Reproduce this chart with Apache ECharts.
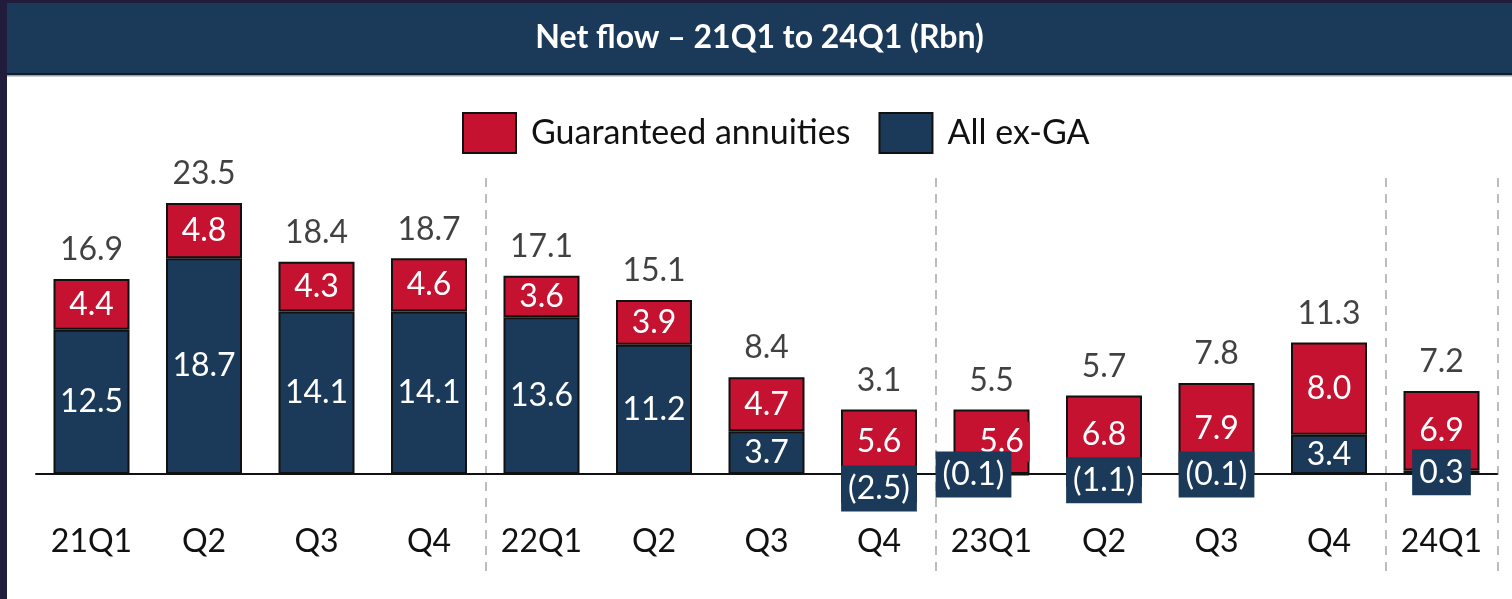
<!DOCTYPE html>
<html>
<head>
<meta charset="utf-8">
<script src="https://cdn.jsdelivr.net/npm/echarts@6/dist/echarts.min.js"></script>
<style>
  html, body { margin: 0; padding: 0; background: #221c3c; }
  #chart { position: absolute; left: 7px; top: 3px; width: 1505px; height: 596px; }
</style>
</head>
<body>
<div id="chart"></div>
<script>
var categories = ["21Q1", "Q2", "Q3", "Q4", "22Q1", "Q2", "Q3", "Q4", "23Q1", "Q2", "Q3", "Q4", "24Q1"];
var guaranteedAnnuities = [4.4, 4.8, 4.3, 4.6, 3.6, 3.9, 4.7, 5.6, 5.6, 6.8, 7.9, 8.0, 6.9];
var allExGA = [12.5, 18.7, 14.1, 14.1, 13.6, 11.2, 3.7, -2.5, -0.1, -1.1, -0.1, 3.4, 0.3];
var totals = [16.9, 23.5, 18.4, 18.7, 17.1, 15.1, 8.4, 3.1, 5.5, 5.7, 7.8, 11.3, 7.2];
var yearStarts = [4, 8, 12];

var RED = "#c41230";
var NAVY = "#1b3a5a";
var FONT = "Lato";

// top of each stack, where the total label sits
var stackTops = guaranteedAnnuities.map(function (g, i) {
  return Math.max(allExGA[i], 0) + g;
});

function fmt(v) {
  return v < 0 ? "(" + Math.abs(v).toFixed(1) + ")" : v.toFixed(1);
}

// small / negative ex-GA values get a navy box behind the label
function exGaItem(v, i) {
  var item = { value: v };
  if (v < 1) {
    item.label = { backgroundColor: NAVY, padding: [5, 7], lineHeight: 36 };
  }
  if (i === 8) {
    item.label.offset = [-18, 0];
  }
  return item;
}

var chart = echarts.init(document.getElementById("chart"));

chart.setOption({
  backgroundColor: "#fff",
  animation: false,
  graphic: [
    { type: "rect", shape: { x: 0, y: 0, width: 1505, height: 70 }, style: { fill: NAVY } },
    { type: "rect", shape: { x: 0, y: 70, width: 1505, height: 2 }, style: { fill: "#0e1e2e" } },
    { type: "rect", shape: { x: 0, y: 72, width: 1505, height: 1.5 }, style: { fill: "#a0a0a0" } },
    {
      type: "text",
      left: "center",
      top: 19,
      style: {
        text: "Net flow – 21Q1 to 24Q1 (Rbn)",
        fill: "#fff",
        font: "bold 32px " + FONT,
      },
    },
  ],
  legend: {
    top: 104,
    left: 450,
    data: ["Guaranteed annuities", "All ex-GA"],
    itemWidth: 53,
    itemHeight: 40,
    itemGap: 28,
    icon: "rect",
    textStyle: { fontFamily: FONT, fontSize: 34, color: "#111", padding: [0, 0, 0, 10] },
  },
  grid: { left: 28.25, right: 14.25, top: 175, bottom: 24, containLabel: false, outerBoundsMode: "none" },
  xAxis: {
    type: "category",
    data: categories,
    axisLine: { show: false, onZero: false },
    axisTick: { show: false },
    axisLabel: { color: "#111", fontFamily: FONT, fontSize: 32, margin: -49 },
    splitLine: {
      show: true,
      interval: function (index) {
        return yearStarts.indexOf(index) >= 0;
      },
      lineStyle: { color: "#bdbdbd", width: 2, type: [9, 7] },
    },
  },
  yAxis: {
    type: "value",
    min: -8.76,
    max: 25.67,
    show: false,
    splitLine: { show: false },
  },
  series: [
    {
      name: "All ex-GA",
      type: "bar",
      stack: "flow",
      barWidth: 76,
      z: 3,
      itemStyle: { color: NAVY, borderColor: "#111", borderWidth: 2 },
      label: {
        show: true,
        position: "inside",
        color: "#fff",
        fontFamily: FONT,
        fontSize: 32,
        formatter: function (p) { return fmt(p.value); },
      },
      markLine: {
        silent: true,
        z: 1,
        symbol: ["none", "none"],
        label: { show: false },
        lineStyle: { color: "#111", width: 2, type: "solid" },
        data: [{ yAxis: 0 }],
      },
      data: allExGA.map(exGaItem),
    },
    {
      name: "Guaranteed annuities",
      type: "bar",
      stack: "flow",
      barWidth: 76,
      z: 2,
      itemStyle: { color: RED, borderColor: "#111", borderWidth: 2 },
      label: {
        show: true,
        position: "inside",
        color: "#fff",
        fontFamily: FONT,
        fontSize: 32,
        formatter: function (p) { return fmt(p.value); },
      },
      data: guaranteedAnnuities.map(function (v, i) {
        return i === 8
          ? { value: v, label: { offset: [10, 0], backgroundColor: RED, padding: [4, 6] } }
          : v;
      }),
    },
    {
      name: "Total",
      type: "scatter",
      symbolSize: 0,
      z: 5,
      label: {
        show: true,
        position: "top",
        distance: 13,
        color: "#111",
        fontFamily: FONT,
        fontSize: 32,
        formatter: function (p) { return fmt(totals[p.dataIndex]); },
      },
      data: stackTops,
    },
  ],
});
</script>
</body>
</html>
